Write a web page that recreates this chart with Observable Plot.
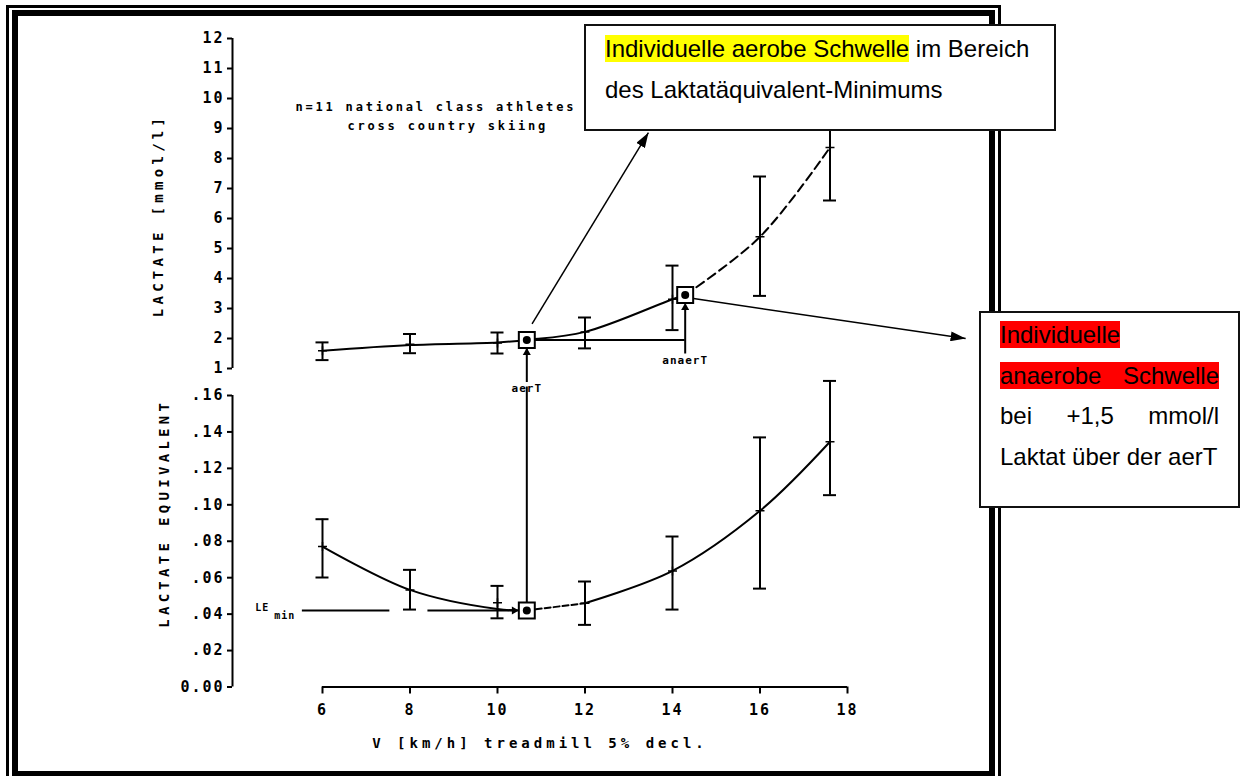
<!DOCTYPE html>
<html>
<head>
<meta charset="utf-8">
<script src="https://cdn.jsdelivr.net/npm/d3@7"></script>
<script src="https://cdn.jsdelivr.net/npm/@observablehq/plot@0.6"></script>
<style>
  html, body { margin: 0; padding: 0; overflow: hidden; background: #fff; }
  #page { position: relative; width: 1243px; height: 776px; overflow: hidden; background: #fff; }
  .frame-outer { position: absolute; left: 6px; top: 5px; width: 995px; height: 800px; border: 3px solid #000; box-sizing: border-box; }
  .frame-inner { position: absolute; left: 12px; top: 10px; width: 983px; height: 767px; border: 6px solid #000; box-sizing: border-box; }
  .layer { position: absolute; left: 0; top: 0; }
  .note { position: absolute; background: #fff; border: 2px solid #111; box-sizing: border-box;
          font-family: "Liberation Sans", Arial, sans-serif; font-size: 24px; line-height: 40.5px; color: #000; }
  .note1 { left: 584px; top: 24px; width: 472px; height: 107px; padding: 3px 0 0 19px; white-space: nowrap; }
  .note2 { left: 979px; top: 311px; width: 261px; height: 197px; padding: 2px 0 0 19px; }
  .note2 .ln { width: 219px; white-space: nowrap; }
  .note2 .just { text-align: justify; text-align-last: justify; white-space: normal; }
  .hl-y { background: #ffff00; }
  .hl-r { background: #ff0000; }
</style>
</head>
<body>
<div id="page">
  <div class="frame-outer"></div>
  <div class="frame-inner"></div>
  <div id="lower" class="layer"></div>
  <div id="upper" class="layer"></div>
  <div class="note note1">
    <span class="hl-y">Individuelle aerobe Schwelle</span> im Bereich<br>des Laktatäquivalent-Minimums
  </div>
  <div class="note note2">
    <div class="ln"><span class="hl-r">Individuelle</span></div>
    <div class="ln just"><span class="hl-r">anaerobe Schwelle</span></div>
    <div class="ln just">bei +1,5 mmol/l</div>
    <div class="ln">Laktat über der aerT</div>
  </div>
</div>
<script>
// Treadmill stages (km/h)
const speeds = [6, 8, 10, 12, 14, 16, 17.6];

// Blood lactate (mmol/l): mean and error-bar limits
const lactateMean = [1.59, 1.81, 1.85, 2.22, 3.31, 5.39, 8.37];
const lactateLow  = [1.28, 1.51, 1.50, 1.67, 2.28, 3.42, 6.60];
const lactateHigh = [1.87, 2.15, 2.20, 2.70, 4.43, 7.40, 10.1];

// Lactate equivalent: mean and error-bar limits
const leMean = [0.0771, 0.0533, 0.0463, 0.0460, 0.0637, 0.0967, 0.1346];
const leLow  = [0.0601, 0.0425, 0.0377, 0.0341, 0.0425, 0.0540, 0.1053];
const leHigh = [0.0921, 0.0643, 0.0555, 0.0579, 0.0826, 0.1370, 0.1680];

// Fitted curves
const lactateFitSpeed = [6, 8, 10, 10.67, 12, 14, 14.29, 16, 17.6];
const lactateFit      = [1.59, 1.78, 1.87, 1.95, 2.22, 3.31, 3.45, 5.39, 8.37];
const leFitSpeed = [6, 8, 10, 10.67, 12, 14, 16, 17.6];
const leFit      = [0.0771, 0.0533, 0.0428, 0.042, 0.046, 0.0637, 0.0967, 0.1346];

// Thresholds
const aerT = {speed: 10.67, lactate: 1.95, le: 0.042};
const anaerT = {speed: 14.29, lactate: 3.45};

// LE-min guide line (speed from, gap start, gap end) at the minimum value
const leMinLine = {start: 5.54, gapStart: 7.54, gapEnd: 8.41, value: 0.042};

// Callout arrows towards the text boxes (speed, lactate units)
const noteArrows = [
  {x1: 10.79, y1: 2.49, x2: 13.45, y2: 8.86},
  {x1: 14.48, y1: 3.33, x2: 20.70, y2: 2.0}
];

// Ticks
const lactateTicks = [1, 2, 3, 4, 5, 6, 7, 8, 9, 10, 11, 12];
const leTicks = [0, 0.02, 0.04, 0.06, 0.08, 0.10, 0.12, 0.14, 0.16];
const speedTicks = [6, 8, 10, 12, 14, 16, 18];

// Text
const lactateTitle = "LACTATE [mmol/l]";
const leTitle = "LACTATE EQUIVALENT";
const speedTitle = "V [km/h] treadmill 5% decl.";
const groupLine1 = "n=11 national class athletes";
const groupLine2 = "cross country skiing";

const lactateRows = speeds.map((s, i) => ({speed: s, mean: lactateMean[i], lo: lactateLow[i], hi: lactateHigh[i]}));
const leRows = speeds.map((s, i) => ({speed: s, mean: leMean[i], lo: leLow[i], hi: leHigh[i]}));
const lactateCurve = lactateFitSpeed.map((s, i) => ({speed: s, value: lactateFit[i]}));
const leCurve = leFitSpeed.map((s, i) => ({speed: s, value: leFit[i]}));

const xDomain = [3.943, 18];
const mono = "'DejaVu Sans Mono', monospace";
const common = {
  width: 1243, height: 776,
  marginLeft: 232, marginRight: 396,
  style: {fontFamily: mono, fontWeight: "bold", background: "transparent", overflow: "visible", color: "#000", letterSpacing: "2px"}
};

// Filled triangular arrowhead for links
function solidHead(color, context) {
  const ns = "http://www.w3.org/2000/svg";
  const doc = (context && context.document) || document;
  const m = doc.createElementNS(ns, "marker");
  m.setAttribute("viewBox", "-15 -5 15 10");
  m.setAttribute("markerWidth", 15);
  m.setAttribute("markerHeight", 10);
  m.setAttribute("markerUnits", "userSpaceOnUse");
  m.setAttribute("refX", 0);
  m.setAttribute("refY", 0);
  m.setAttribute("orient", "auto");
  const p = doc.createElementNS(ns, "path");
  p.setAttribute("d", "M-15,-5L0,0L-15,5Z");
  p.setAttribute("fill", color);
  p.setAttribute("stroke", "none");
  m.appendChild(p);
  return m;
}

function errorBars(rows) {
  return [
    Plot.ruleX(rows, {x: "speed", y1: "lo", y2: "hi", strokeWidth: 2}),
    Plot.ruleY(rows, {y: "hi", x1: "speed", x2: "speed", insetLeft: -6.5, insetRight: -6.5, strokeWidth: 2}),
    Plot.ruleY(rows, {y: "lo", x1: "speed", x2: "speed", insetLeft: -6.5, insetRight: -6.5, strokeWidth: 2}),
    Plot.dot(rows, {x: "speed", y: "mean", symbol: "plus", r: 3, stroke: "black", strokeWidth: 1.5})
  ];
}

function thresholdBox(data, yKey) {
  return [
    Plot.dot(data, {x: "speed", y: yKey, symbol: "square", r: 9, fill: "white", stroke: "black", strokeWidth: 2}),
    Plot.dot(data, {x: "speed", y: yKey, r: 4, fill: "black"})
  ];
}

// Upper panel: lactate
const upper = Plot.plot({
  ...common,
  marginTop: 38, marginBottom: 408,
  x: {domain: xDomain, axis: null},
  y: {domain: [1, 12], axis: null},
  marks: [
    Plot.ruleX([xDomain[0]], {y1: 1, y2: 12, strokeWidth: 2}),
    Plot.axisY(lactateTicks, {tickSize: 5, tickPadding: 3, fontSize: 15, strokeWidth: 2, tickFormat: d => String(d), label: null}),
    Plot.line(lactateCurve.filter(d => d.speed <= anaerT.speed), {x: "speed", y: "value", curve: "catmull-rom", strokeWidth: 2}),
    Plot.line(lactateCurve.filter(d => d.speed >= anaerT.speed), {x: "speed", y: "value", curve: "catmull-rom", strokeWidth: 2, strokeDasharray: "9,5"}),
    ...errorBars(lactateRows),
    Plot.ruleY([aerT], {y: "lactate", x1: "speed", x2: () => anaerT.speed, strokeWidth: 2}),
    Plot.ruleX([anaerT], {x: "speed", y1: () => aerT.lactate, y2: "lactate", insetBottom: -10, insetTop: 14, strokeWidth: 2}),
    Plot.ruleX([aerT], {x: "speed", y1: () => 1, y2: "lactate", insetBottom: -7, insetTop: 14, strokeWidth: 2}),
    Plot.dot([aerT, anaerT], {x: "speed", y: "lactate", symbol: "triangle", r: 3, fill: "black", dy: 12.6}),
    ...thresholdBox([aerT, anaerT], "lactate"),
    Plot.text([aerT], {x: "speed", frameAnchor: "bottom", lineAnchor: "middle", dy: 20, text: () => "aerT", fontSize: 11}),
    Plot.text([anaerT], {x: "speed", frameAnchor: "bottom", lineAnchor: "middle", dy: -8, text: () => "anaerT", fontSize: 11}),
    Plot.text([groupLine1], {frameAnchor: "top-left", lineAnchor: "middle", dx: 63, dy: 69, textAnchor: "start", fontSize: 12}),
    Plot.text([groupLine2], {frameAnchor: "top-left", lineAnchor: "middle", dx: 115, dy: 88, textAnchor: "start", fontSize: 12}),
    Plot.text([lactateTitle], {frameAnchor: "left", textAnchor: "middle", lineAnchor: "middle", dx: -74, dy: 12, rotate: -90, fontSize: 14}),
    Plot.link(noteArrows, {x1: "x1", y1: "y1", x2: "x2", y2: "y2", stroke: "black", strokeWidth: 1.5, markerEnd: solidHead})
  ]
});

// Lower panel: lactate equivalent
const lower = Plot.plot({
  ...common,
  marginTop: 395, marginBottom: 89.5,
  x: {domain: xDomain},
  y: {domain: [0, 0.16]},
  marks: [
    Plot.ruleX([xDomain[0]], {y1: 0, y2: 0.16, strokeWidth: 2}),
    Plot.axisY(leTicks, {tickSize: 5, tickPadding: 3, fontSize: 15, strokeWidth: 2, label: null,
      tickFormat: d => d === 0 ? "0.00" : d3.format(".2f")(d).slice(1)}),
    Plot.ruleY([0], {x1: () => speedTicks[0], x2: () => speedTicks[speedTicks.length - 1], strokeWidth: 2}),
    Plot.axisX(speedTicks, {tickSize: 7, tickPadding: 10, fontSize: 15, strokeWidth: 2, label: null}),
    Plot.line(leCurve.filter(d => d.speed <= aerT.speed), {x: "speed", y: "value", curve: "catmull-rom", strokeWidth: 2}),
    Plot.line(leCurve.filter(d => d.speed >= aerT.speed && d.speed <= 12), {x: "speed", y: "value", strokeWidth: 2, strokeDasharray: "6,3"}),
    Plot.line(leCurve.filter(d => d.speed >= 12), {x: "speed", y: "value", curve: "catmull-rom", strokeWidth: 2}),
    ...errorBars(leRows),
    Plot.ruleY([leMinLine], {y: "value", x1: "start", x2: "gapStart", strokeWidth: 2}),
    Plot.ruleY([leMinLine], {y: "value", x1: "gapEnd", x2: () => aerT.speed, insetRight: 12, strokeWidth: 2}),
    Plot.dot([aerT], {x: "speed", y: "le", symbol: "triangle", r: 3, rotate: 90, fill: "black", dx: -12.6}),
    Plot.ruleX([aerT], {x: "speed", y1: "le", y2: () => 0.16, insetBottom: 8.5, insetTop: 3, strokeWidth: 2}),
    ...thresholdBox([aerT], "le"),
    Plot.text([leMinLine], {x: "start", y: "value", text: () => "LE", textAnchor: "end", dx: -33, dy: -3, fontSize: 10}),
    Plot.text([leMinLine], {x: "start", y: "value", text: () => "min", textAnchor: "end", dx: -7, dy: 5, fontSize: 10}),
    Plot.text([leTitle], {frameAnchor: "left", textAnchor: "middle", lineAnchor: "middle", dx: -68, dy: -28, rotate: -90, fontSize: 14}),
    Plot.text([speedTitle], {frameAnchor: "bottom", textAnchor: "middle", lineAnchor: "middle", dy: 57, fontSize: 14})
  ]
});

// Letter spacing of the typewriter-style labels
const spacingByText = new Map([
  [lactateTitle, "4.3px"], [leTitle, "4.3px"], [speedTitle, "4px"],
  [groupLine1, "2.8px"], [groupLine2, "2.8px"],
  ["aerT", "1px"], ["anaerT", "1px"], ["LE", "1px"], ["min", "1px"]
]);
for (const svg of [upper, lower]) {
  d3.select(svg).selectAll("text").each(function() {
    const s = spacingByText.get(this.textContent);
    if (s) this.style.letterSpacing = s;
  });
}

document.getElementById("upper").appendChild(upper);
document.getElementById("lower").appendChild(lower);
</script>
</body>
</html>
